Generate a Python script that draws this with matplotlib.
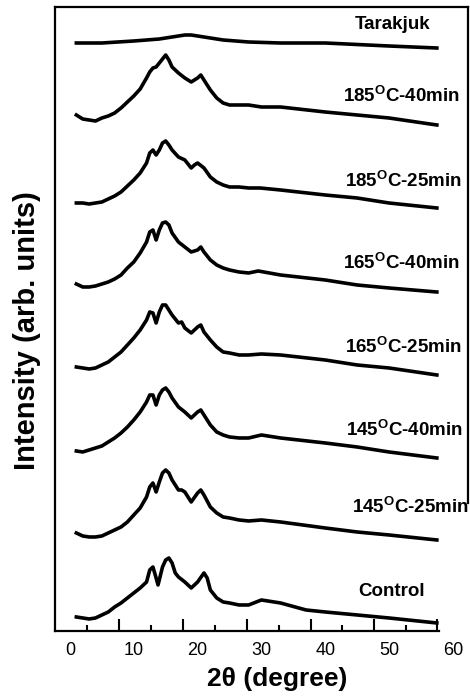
import matplotlib
matplotlib.use("Agg")
import matplotlib.pyplot as plt

plt.rcParams['font.family'] = ['Liberation Sans', 'DejaVu Sans']
plt.rcParams['mathtext.fontset'] = 'custom'
plt.rcParams['mathtext.rm'] = 'Liberation Sans:bold'
plt.rcParams['mathtext.bf'] = 'Liberation Sans:bold'
plt.rcParams['mathtext.it'] = 'Liberation Sans:bold'

# ---- data (2theta in degrees, stacked intensity in arb. units) ----
theta_tarakjuk = [1, 5, 10, 14, 16, 18, 19, 21, 24, 28, 33, 40, 50, 57.5]
int_tarakjuk = [588, 588, 590, 592, 594, 596, 596, 594, 591, 589, 588, 588, 585, 583]

theta_185_40 = [1, 2, 3, 4, 5, 6, 7, 8, 9, 10, 11, 12, 12.5, 13, 13.5, 14, 15, 15.5, 16,
                17, 18, 19, 20, 20.5, 21, 22, 23, 24, 25, 26.5, 28, 30, 33, 40, 50, 57.5]
int_185_40 = [516, 512, 511, 510, 513, 515, 518, 523, 529, 535, 542, 553, 559, 563, 564,
              568, 576, 571, 564, 558, 553, 549, 553, 556, 551, 541, 533, 528, 526, 526,
              526, 524, 524, 519, 513, 506]

theta_185_25 = [1, 2, 3, 4, 5, 6, 7, 8, 9, 10, 11, 12, 12.5, 13, 13.5, 14, 14.5, 15, 15.5,
                16, 17, 18, 19, 19.5, 20, 21, 22, 23, 24, 25, 26.5, 28, 29.8, 33, 40, 45,
                50, 57.5]
int_185_25 = [428, 428, 427, 428, 429, 432, 435, 439, 445, 451, 458, 468, 478, 481, 476,
              481, 488, 490, 486, 481, 474, 471, 463, 466, 468, 463, 454, 449, 446, 444,
              444, 443, 443, 441, 436, 433, 428, 423]

theta_165_40 = [1, 2, 3, 4, 5, 6, 7, 8, 9, 10, 11, 12, 12.5, 13, 13.5, 14, 14.5, 15, 15.5,
                16, 17, 18, 19, 20, 20.5, 21, 22, 23, 24, 25, 26.5, 28, 29.5, 33, 40, 45,
                50, 57.5]
int_165_40 = [347, 344, 344, 345, 347, 349, 352, 356, 363, 369, 378, 389, 399, 401, 391,
              401, 408, 409, 406, 398, 389, 384, 379, 381, 384, 379, 371, 366, 363, 361,
              359, 358, 360, 356, 351, 346, 343, 339]

theta_165_25 = [1, 2, 3, 4, 5, 6, 7, 8, 9, 10, 11, 12, 12.5, 13, 13.5, 14, 14.5, 15, 15.5,
                16, 17, 17.5, 18, 19, 20, 20.5, 21, 22, 23, 24, 25, 26.5, 28, 30, 33, 40,
                45, 50, 57.5]
int_165_25 = [264, 263, 262, 263, 266, 269, 274, 279, 286, 293, 301, 311, 319, 318, 308,
              319, 326, 326, 321, 316, 308, 309, 303, 298, 304, 306, 299, 291, 284, 279,
              278, 276, 276, 277, 276, 271, 266, 263, 256]

theta_145_40 = [1, 2, 3, 4, 5, 6, 7, 8, 9, 10, 11, 12, 12.5, 13, 13.5, 14, 14.5, 15, 15.5,
                16, 17, 18, 19, 20, 20.5, 21, 22, 23, 24, 25, 26.5, 28, 30, 33, 40, 45,
                50, 57.5]
int_145_40 = [180, 179, 181, 183, 185, 189, 193, 198, 204, 211, 219, 229, 236, 236, 226,
              236, 241, 243, 239, 233, 224, 219, 213, 219, 221, 216, 206, 199, 196, 194,
              193, 193, 196, 193, 188, 184, 179, 173]

theta_145_25 = [1, 2, 3, 4, 5, 6, 7, 8, 9, 10, 11, 12, 12.5, 13, 13.5, 14, 14.5, 15, 15.5,
                16, 17, 17.5, 18, 19, 20, 20.5, 21, 22, 23, 24, 25, 26.5, 28, 30, 33, 40,
                45, 50, 57.5]
int_145_25 = [98, 95, 94, 94, 95, 98, 101, 104, 109, 116, 123, 134, 144, 148, 139, 149,
              158, 161, 158, 151, 141, 141, 139, 129, 138, 141, 136, 124, 118, 114, 113,
              111, 110, 111, 109, 103, 99, 96, 91]

theta_control = [1, 2, 3, 4, 5, 6, 7, 8, 9, 10, 11, 12, 12.5, 13, 13.5, 13.8, 14.5, 15,
                 15.5, 16, 16.5, 17, 18, 19, 20, 21, 21.5, 22, 23, 24, 25, 26.5, 28, 30,
                 33, 37, 40, 45, 50, 57.5]
int_control = [14, 13, 12, 13, 16, 19, 24, 28, 33, 38, 43, 49, 61, 64, 53, 46, 64, 71,
               73, 68, 58, 54, 49, 43, 49, 58, 53, 41, 33, 29, 28, 26, 26, 31,
               28, 21, 19, 16, 13, 8]

sample_labels = ['Tarakjuk', '185$^{\\mathrm{O}}$C-40min', '185$^{\\mathrm{O}}$C-25min',
                 '165$^{\\mathrm{O}}$C-40min', '165$^{\\mathrm{O}}$C-25min',
                 '145$^{\\mathrm{O}}$C-40min', '145$^{\\mathrm{O}}$C-25min', 'Control']
label_x = [50.6, 52.0, 52.2, 52.0, 52.2, 52.5, 53.3, 50.4]
label_y = [606, 535, 450, 368, 284, 201, 124, 39]

x_tick_values = [0, 10, 20, 30, 40, 50, 60]

thetas = [theta_tarakjuk, theta_185_40, theta_185_25, theta_165_40,
          theta_165_25, theta_145_40, theta_145_25, theta_control]
ints = [int_tarakjuk, int_185_40, int_185_25, int_165_40,
        int_165_25, int_145_40, int_145_25, int_control]

# ---- figure ----
fig = plt.figure(figsize=(4.7, 7.0), dpi=100)
ax = fig.add_axes([0.117, 0.0986, 0.879, 0.8914])

for t, y in zip(thetas, ints):
    ax.plot(t, y, color='black', lw=2.6, solid_joinstyle='round')

for lab, lx, ly in zip(sample_labels, label_x, label_y):
    ax.text(lx, ly, lab, ha='center', va='center', fontsize=13.5,
            fontweight='bold', color='black')

ax.set_xlim(-2.35, 62.4)
ax.set_ylim(0, 624)

ax.set_xticks(x_tick_values)
ax.set_xticklabels([str(v) for v in x_tick_values], fontsize=13)
ax.tick_params(axis='x', which='major', length=0, pad=8)
ax.set_xticks([2.7 + 10 * k for k in range(6)], minor=True)
ax.tick_params(axis='x', which='minor', direction='in', length=4, width=1.5)
sec = ax.secondary_xaxis('bottom')
sec.set_xticks([7.7 + 10 * k for k in range(5)] + [57.6])
sec.set_xticklabels([])
sec.tick_params(direction='in', length=9, width=1.5)
sec.spines['bottom'].set_visible(False)

ax.set_yticks([])

for s in ax.spines.values():
    s.set_linewidth(1.6)
ax.spines['bottom'].set_bounds(-2.35, 57.8)
ax.spines['right'].set_bounds(128, 624)

ax.set_xlabel('2\u03b8 (degree)', fontsize=19, fontweight='bold')
ax.xaxis.set_label_coords(0.537, -0.058)
ax.set_ylabel('Intensity (arb. units)', fontsize=21, fontweight='bold')
ax.yaxis.set_label_coords(-0.033, 0.482)

fig.savefig('out.png', dpi=100)
